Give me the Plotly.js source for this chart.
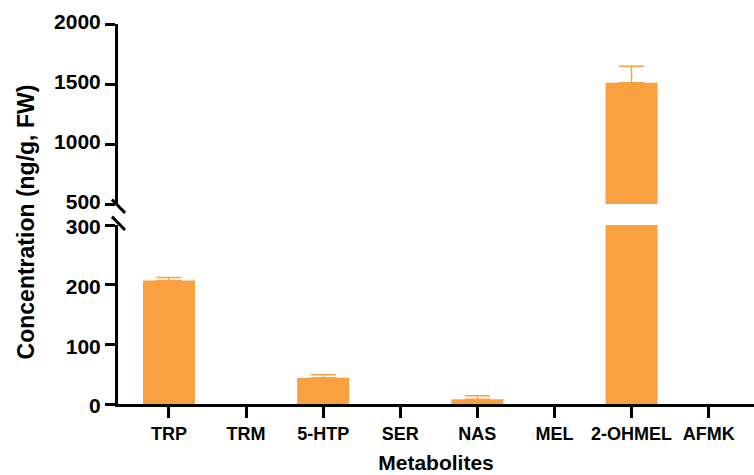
<!DOCTYPE html>
<html>
<head>
<meta charset="utf-8">
<script src="https://cdn.plot.ly/plotly-3.0.1.min.js"></script>
<style>html,body{margin:0;padding:0;background:#fff;}#chart{width:754px;height:475px;}</style>
</head>
<body>
<div id="chart"></div>
<script>
const categories = ["TRP", "TRM", "5-HTP", "SER", "NAS", "MEL", "2-OHMEL", "AFMK"];
const concentration = [207, 0, 44, 0, 8, 0, 1511, 0];
const errorUp = [5, 0, 5, 0, 6, 0, 137, 0];
const lowerTicks = [0, 100, 200, 300];
const upperTicks = [500, 1000, 1500, 2000];
const yTitle = "Concentration (ng/g, FW)";
const xTitle = "Metabolites";

const barColor = "#F9A141";
const fontFam = "Arial, 'Liberation Sans', sans-serif";

// bars that actually have height; zero values draw nothing
function barTrace(yaxis, minVal) {
  const keep = categories.map((c, i) => i).filter(i => concentration[i] > minVal);
  return {
    type: "bar",
    x: keep,
    y: keep.map(i => concentration[i]),
    yaxis: yaxis,
    xaxis: "x",
    width: 0.675,
    marker: {color: barColor, line: {width: 0}},
    error_y: {type: "data", array: keep.map(i => errorUp[i]), arrayminus: keep.map(() => 0),
              symmetric: false, color: barColor, thickness: 1.5, width: 12.5},
    hoverinfo: "x+y",
    showlegend: false
  };
}

const axisCommon = {
  showline: true, linecolor: "#000", linewidth: 3,
  ticks: "outside", ticklen: 10, tickwidth: 3, tickcolor: "#000",
  showgrid: false, zeroline: false,
  tickfont: {family: fontFam, size: 21, color: "#000", weight: "bold"}
};

const layout = {
  width: 754, height: 475,
  margin: {l: 118, r: 0, t: 24, b: 71},
  paper_bgcolor: "#fff", plot_bgcolor: "#fff",
  xaxis: {
    anchor: "y",
    range: [-0.661, 7.588],
    tickvals: categories.map((c, i) => i), ticktext: categories,
    showline: true, linecolor: "#000", linewidth: 3,
    ticks: "outside", ticklen: 11, tickwidth: 3, tickcolor: "#000",
    showgrid: false, zeroline: false,
    tickfont: {family: fontFam, size: 18, color: "#000", weight: "bold"},
    title: {text: xTitle, font: {family: fontFam, size: 21, color: "#000", weight: "bold"}, standoff: 13}
  },
  yaxis: Object.assign({}, axisCommon, {
    domain: [0, 0.471], range: [0, 300], tickvals: lowerTicks, anchor: "x", ticklabelshift: 2
  }),
  yaxis2: Object.assign({}, axisCommon, {
    domain: [0.526, 1], range: [500, 2000], tickvals: upperTicks, anchor: "x", ticklabelshift: -2
  }),
  annotations: [{
    text: yTitle, xref: "paper", yref: "paper", x: -0.145, y: 0.48,
    xanchor: "center", yanchor: "middle", textangle: -90, showarrow: false,
    font: {family: fontFam, size: 23, color: "#000", weight: "bold"}
  }],
  shapes: [
    {type: "line", xref: "paper", yref: "paper", x0: -0.0095, y0: 0.538, x1: 0.0110, y1: 0.503,
     line: {color: "#000", width: 3}},
    {type: "line", xref: "paper", yref: "paper", x0: -0.0095, y0: 0.493, x1: 0.0110, y1: 0.458,
     line: {color: "#000", width: 3}}
  ]
};

Plotly.newPlot("chart", [barTrace("y", 0), barTrace("y2", upperTicks[0])], layout,
  {displayModeBar: false, staticPlot: true});
</script>
</body>
</html>
